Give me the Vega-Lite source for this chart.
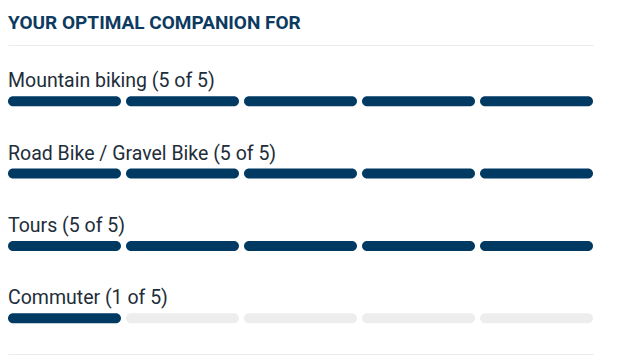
{
  "$schema": "https://vega.github.io/schema/vega-lite/v6.json",
  "width": 585,
  "height": 309,
  "autosize": {"type": "none"},
  "padding": {"left": 8, "top": 45, "right": 25, "bottom": 2},
  "background": "white",
  "title": {
    "text": "YOUR OPTIMAL COMPANION FOR",
    "anchor": "start",
    "frame": "group",
    "font": "Roboto",
    "fontSize": 19,
    "fontWeight": "bold",
    "color": "#0d3a5f",
    "baseline": "alphabetic",
    "offset": -3
  },
  "config": {"view": {"stroke": null}},
  "data": {
    "values": [
      {"activity": "Mountain biking", "label": "Mountain biking (5 of 5)", "score": 5, "segment": 1},
      {"activity": "Mountain biking", "label": "Mountain biking (5 of 5)", "score": 5, "segment": 2},
      {"activity": "Mountain biking", "label": "Mountain biking (5 of 5)", "score": 5, "segment": 3},
      {"activity": "Mountain biking", "label": "Mountain biking (5 of 5)", "score": 5, "segment": 4},
      {"activity": "Mountain biking", "label": "Mountain biking (5 of 5)", "score": 5, "segment": 5},
      {"activity": "Road Bike / Gravel Bike", "label": "Road Bike / Gravel Bike (5 of 5)", "score": 5, "segment": 1},
      {"activity": "Road Bike / Gravel Bike", "label": "Road Bike / Gravel Bike (5 of 5)", "score": 5, "segment": 2},
      {"activity": "Road Bike / Gravel Bike", "label": "Road Bike / Gravel Bike (5 of 5)", "score": 5, "segment": 3},
      {"activity": "Road Bike / Gravel Bike", "label": "Road Bike / Gravel Bike (5 of 5)", "score": 5, "segment": 4},
      {"activity": "Road Bike / Gravel Bike", "label": "Road Bike / Gravel Bike (5 of 5)", "score": 5, "segment": 5},
      {"activity": "Tours", "label": "Tours (5 of 5)", "score": 5, "segment": 1},
      {"activity": "Tours", "label": "Tours (5 of 5)", "score": 5, "segment": 2},
      {"activity": "Tours", "label": "Tours (5 of 5)", "score": 5, "segment": 3},
      {"activity": "Tours", "label": "Tours (5 of 5)", "score": 5, "segment": 4},
      {"activity": "Tours", "label": "Tours (5 of 5)", "score": 5, "segment": 5},
      {"activity": "Commuter", "label": "Commuter (1 of 5)", "score": 1, "segment": 1},
      {"activity": "Commuter", "label": "Commuter (1 of 5)", "score": 1, "segment": 2},
      {"activity": "Commuter", "label": "Commuter (1 of 5)", "score": 1, "segment": 3},
      {"activity": "Commuter", "label": "Commuter (1 of 5)", "score": 1, "segment": 4},
      {"activity": "Commuter", "label": "Commuter (1 of 5)", "score": 1, "segment": 5}
    ]
  },
  "encoding": {
    "y": {
      "field": "activity",
      "type": "nominal",
      "sort": ["Mountain biking", "Road Bike / Gravel Bike", "Tours", "Commuter"],
      "scale": {"range": [20, 309.5], "paddingInner": 0, "paddingOuter": 0},
      "axis": null
    }
  },
  "layer": [
    {
      "mark": {"type": "bar", "height": 10, "cornerRadius": 5},
      "encoding": {
        "x": {
          "field": "segment",
          "type": "ordinal",
          "scale": {"paddingInner": 0.0427, "paddingOuter": 0},
          "axis": {"orient": "bottom", "title": null, "labels": false, "ticks": false, "domain": true, "domainColor": "#ebebeb", "domainWidth": 1}
        },
        "color": {
          "condition": {"test": "datum.segment <= datum.score", "value": "#003a63"},
          "value": "#ededed"
        }
      }
    },
    {
      "transform": [{"filter": "datum.segment == 1"}],
      "mark": {"type": "text", "align": "left", "baseline": "alphabetic", "dy": -14, "font": "Roboto", "fontSize": 19.5, "color": "#222d3a"},
      "encoding": {
        "x": {
          "field": "segment",
          "type": "ordinal",
          "bandPosition": 0,
          "axis": {"orient": "top", "title": null, "labels": false, "ticks": false, "domain": true, "domainColor": "#ebebeb", "domainWidth": 1}
        },
        "text": {"field": "label"}
      }
    }
  ],
  "resolve": {"axis": {"x": "independent"}}
}
